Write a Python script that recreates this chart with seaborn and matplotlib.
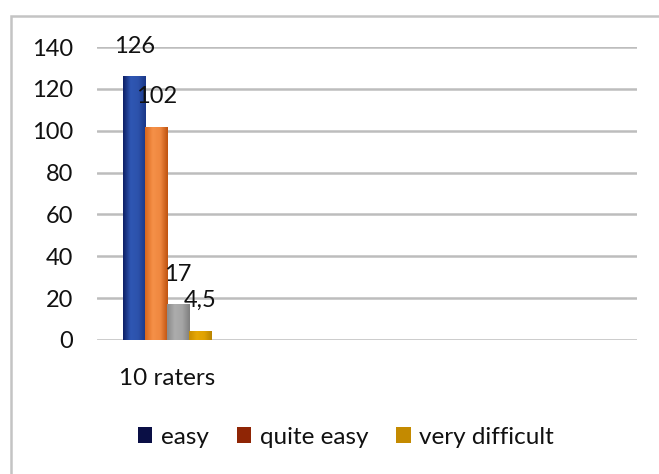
import numpy as np
import pandas as pd
import matplotlib
matplotlib.use("Agg")
import matplotlib.pyplot as plt
from matplotlib.patches import Patch, Rectangle
from matplotlib.colors import LinearSegmentedColormap
import seaborn as sns

# ---- data ----
categories = ["10 raters"]
series = ["easy", "quite easy", "difficult", "very difficult"]
values = [126, 102, 17, 4.5]
value_labels = ["126", "102", "17", "4,5"]
legend_series = ["easy", "quite easy", "very difficult"]

# ---- styles ----
bar_grad = {
    "easy": ["#0d1f66", "#2f57b4", "#2c52ab", "#1a3787"],
    "quite easy": ["#d8661c", "#f59048", "#ef8840", "#bf520f"],
    "difficult": ["#8a8a8a", "#acacac", "#a5a5a5", "#7f7f7f"],
    "very difficult": ["#c98e00", "#e6a806", "#e0a200", "#b98400"],
}
bar_colors = {k: v[2] for k, v in bar_grad.items()}
legend_colors = {"easy": "#0a0f45", "quite easy": "#8f2505", "very difficult": "#c48a00"}

sns.set_theme(style="white")
plt.rcParams["font.family"] = ["Lato", "DejaVu Sans"]

W, H = 659, 474
fig = plt.figure(figsize=(W / 100, H / 100), dpi=100)
ax = fig.add_axes([97 / W, 1 - 340 / H, (637 - 97) / W, (340 - 47) / H])

df = pd.DataFrame({"category": categories * len(series), "series": series, "value": values})
sns.barplot(data=df, x="category", y="value", hue="series", hue_order=series,
            palette=bar_colors, width=0.652, ax=ax, legend=False, saturation=1)

# gradient fills clipped to bars
for cont, s in zip(ax.containers, series):
    cmap = LinearSegmentedColormap.from_list(s, bar_grad[s])
    for p in cont.patches:
        x0, y0 = p.get_x(), p.get_y()
        w, h = p.get_width(), p.get_height()
        grad = np.linspace(0, 1, 64).reshape(1, -1)
        im = ax.imshow(grad, cmap=cmap, aspect="auto", extent=[x0, x0 + w, y0, y0 + h],
                       zorder=p.get_zorder() + 0.1, interpolation="bicubic")
        im.set_clip_path(p)
        p.set_edgecolor("none")

# data labels
for cont, lab in zip(ax.containers, value_labels):
    for p in cont.patches:
        ax.annotate(lab, (p.get_x() + p.get_width() / 2, p.get_height()),
                    xytext=(0, 30), textcoords="offset pixels", ha="center", va="center",
                    fontsize=17, color="#111111", zorder=5)

ax.set_xlim(-0.52, 3.48)
ax.set_ylim(0, 140)
ax.set_yticks(range(0, 141, 20))
ax.set_xticks([0])
ax.set_xticklabels(categories)
ax.set_xlabel("")
ax.set_ylabel("")
ax.yaxis.grid(True, color="#bdbdbd", linewidth=1.8)
ax.set_axisbelow(True)
for sp in ax.spines.values():
    sp.set_visible(False)
ax.tick_params(axis="y", length=0, pad=17, labelsize=17, labelcolor="#111111")
ax.tick_params(axis="x", length=0, pad=20, labelsize=17.5, labelcolor="#111111")

# legend
handles = [Patch(facecolor=legend_colors[s], edgecolor="none") for s in legend_series]
fig.legend(handles, legend_series, loc="center", bbox_to_anchor=(346 / W, 1 - 437 / H),
           ncol=3, frameon=False, fontsize=17.5, handlelength=0.6, handleheight=0.6,
           handletextpad=0.35, columnspacing=1.15, labelcolor="#111111")

# outer chart border
fig.add_artist(Rectangle((11 / W, -0.1), 1.2, 1.1 - 16 / H, transform=fig.transFigure,
                         fill=False, edgecolor="#c4c4c4", linewidth=1.8))

fig.savefig("out.png", dpi=100)
